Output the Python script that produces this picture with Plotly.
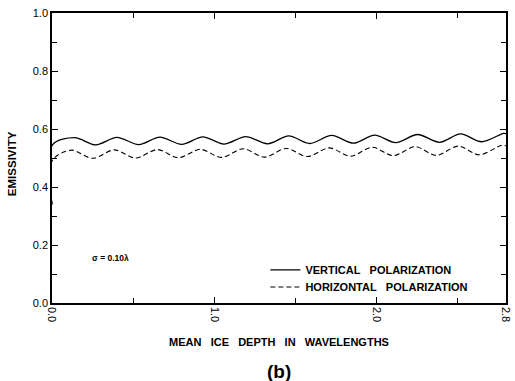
import plotly.graph_objects as go

# Mean ice depth (in wavelengths) at the start, crests and troughs of each curve
depth_v = [0.0, 0.003, 0.14, 0.27, 0.40, 0.535, 0.665, 0.80, 0.93, 1.06, 1.195, 1.33,
           1.46, 1.59, 1.725, 1.86, 1.99, 2.12, 2.255, 2.39, 2.52, 2.65, 2.785, 2.80]
emis_v = [0.34, 0.545, 0.570, 0.545, 0.571, 0.546, 0.572, 0.547, 0.573, 0.548, 0.574, 0.549,
          0.576, 0.550, 0.578, 0.551, 0.579, 0.553, 0.581, 0.554, 0.583, 0.556, 0.585, 0.584]

depth_h = [0.0, 0.003, 0.12, 0.25, 0.385, 0.515, 0.65, 0.78, 0.915, 1.045, 1.18, 1.31,
           1.445, 1.575, 1.71, 1.84, 1.975, 2.105, 2.24, 2.37, 2.505, 2.635, 2.77, 2.80]
emis_h = [0.34, 0.492, 0.527, 0.499, 0.528, 0.500, 0.529, 0.501, 0.530, 0.502, 0.532, 0.503,
          0.533, 0.505, 0.535, 0.506, 0.537, 0.508, 0.539, 0.509, 0.541, 0.511, 0.543, 0.542]

x_tickvals = [0.0, 1.0, 2.0, 2.8]
y_tickvals = [0.0, 0.2, 0.4, 0.6, 0.8, 1.0]

FONT = "Liberation Sans, Arial, sans-serif"
SP = "\u00a0\u00a0\u00a0"

fig = go.Figure()
fig.add_trace(go.Scatter(
    x=depth_v, y=emis_v, mode="lines", name="VERTICAL" + SP + "POLARIZATION",
    line=dict(color="black", width=1.3, shape="spline", smoothing=0.9),
    legend="legend",
))
fig.add_trace(go.Scatter(
    x=depth_h, y=emis_h, mode="lines", name="HORIZONTAL" + SP + "POLARIZATION",
    line=dict(color="black", width=1.1, dash="5px,3px", shape="spline", smoothing=0.9),
    legend="legend2",
))

axis_common = dict(
    showline=True, linecolor="black", linewidth=1.5, mirror="allticks",
    ticks="inside", ticklen=6, tickwidth=1.2, tickcolor="black",
    showgrid=False, zeroline=False,
    tickfont=dict(family=FONT, size=11, color="black"),
)

fig.update_xaxes(
    range=[0, 2.8], tickvals=x_tickvals, ticktext=["0.0", "1.0", "2.0", "2.8"],
    tickangle=90, ticklabeloverflow="allow",
    minor=dict(tickvals=[0.5, 1.5, 2.5], ticks="inside", ticklen=5, tickwidth=1.2,
               tickcolor="black"),
    title=dict(text="MEAN" + SP + "ICE" + SP + "DEPTH" + SP + "IN" + SP + "WAVELENGTHS",
               font=dict(family=FONT, size=11, color="black", weight="bold"), standoff=17),
    **axis_common,
)
fig.update_yaxes(
    range=[0, 1], tickvals=y_tickvals, tickformat=".1f",
    minor=dict(dtick=0.1, ticks="inside", ticklen=5, tickwidth=1.2, tickcolor="black"),
    **axis_common,
)

fig.add_annotation(
    x=-0.088, y=0.479, xref="paper", yref="paper", text="EMISSIVITY", showarrow=False,
    textangle=-90, xanchor="center", yanchor="middle",
    font=dict(family=FONT, size=11.5, color="black", weight="bold"),
)
fig.add_annotation(
    x=0.36, y=0.155, xref="x", yref="y", text="σ = 0.10λ", showarrow=False,
    font=dict(family=FONT, size=8.5, color="black", weight="bold"),
)
fig.add_annotation(
    x=0.5, y=-0.235, xref="paper", yref="paper", text="(b)", showarrow=False,
    yanchor="middle", font=dict(family=FONT, size=19, color="black", weight="bold"),
)

legend_style = dict(
    xanchor="left", yanchor="middle",
    bgcolor="rgba(0,0,0,0)", borderwidth=0,
    font=dict(family=FONT, size=11, color="black", weight="bold"),
    itemwidth=30,
)

fig.update_layout(
    width=515, height=381,
    margin=dict(l=52, r=3, t=13, b=78),
    paper_bgcolor="white", plot_bgcolor="white",
    showlegend=True,
    legend=dict(x=0.47, y=0.114, **legend_style),
    legend2=dict(x=0.47, y=0.055, **legend_style),
)

fig.write_html("out.html")
